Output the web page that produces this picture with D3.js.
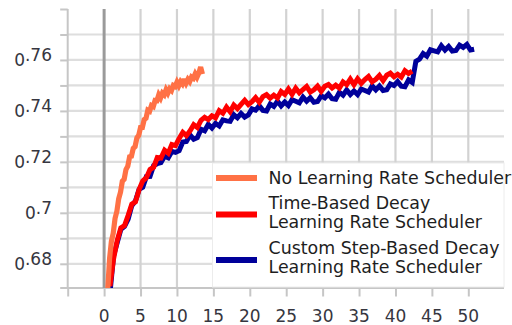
<!DOCTYPE html>
<html>
<head>
<meta charset="utf-8">
<script src="https://cdn.jsdelivr.net/npm/d3@7"></script>
<style>
  html, body { margin: 0; padding: 0; background: #fff; }
  svg { display: block; font-family: "DejaVu Sans", sans-serif; }
</style>
</head>
<body>
<svg id="chart" width="512" height="325"></svg>
<script>
// Validation accuracy per epoch for three learning-rate schedules
const noSchedStart = 0.5, noSchedStep = 0.25;
const noSchedulerAcc = [
  0.6700, 0.6821, 0.6889, 0.6920, 0.6978, 0.7006, 0.7055, 0.7081, 0.7124, 0.7132,
  0.7170, 0.7183, 0.7220, 0.7222, 0.7253, 0.7260, 0.7294, 0.7304, 0.7335, 0.7335,
  0.7366, 0.7371, 0.7403, 0.7399, 0.7421, 0.7417, 0.7441, 0.7440, 0.7463, 0.7451,
  0.7470, 0.7463, 0.7483, 0.7470, 0.7487, 0.7480, 0.7500, 0.7496, 0.7513, 0.7499,
  0.7515, 0.7506, 0.7524, 0.7509, 0.7524, 0.7515, 0.7533, 0.7528, 0.7545, 0.7532,
  0.7548, 0.7572, 0.7544
];

const timeDecayStart = 0.8, timeDecayStep = 0.5;
const timeDecayAcc = [
  0.6712, 0.6820, 0.6892, 0.6941, 0.6950, 0.6990, 0.7034, 0.7043, 0.7091, 0.7125,
  0.7138, 0.7170, 0.7179, 0.7217, 0.7215, 0.7246, 0.7234, 0.7268, 0.7264, 0.7292,
  0.7316, 0.7303, 0.7322, 0.7346, 0.7335, 0.7363, 0.7375, 0.7366, 0.7381, 0.7373,
  0.7401, 0.7391, 0.7415, 0.7397, 0.7423, 0.7409, 0.7426, 0.7442, 0.7425, 0.7436,
  0.7452, 0.7434, 0.7456, 0.7464, 0.7450, 0.7462, 0.7451, 0.7476, 0.7465, 0.7486,
  0.7465, 0.7489, 0.7471, 0.7484, 0.7496, 0.7474, 0.7483, 0.7497, 0.7477, 0.7497,
  0.7504, 0.7490, 0.7501, 0.7490, 0.7514, 0.7503, 0.7525, 0.7503, 0.7526, 0.7508,
  0.7523, 0.7535, 0.7514, 0.7524, 0.7539, 0.7519, 0.7540, 0.7548, 0.7534, 0.7544,
  0.7533, 0.7558, 0.7547, 0.7556
];

const stepDecayStart = 0.8, stepDecayStep = 0.5;
const stepDecayAcc = [
  0.6684, 0.6832, 0.6883, 0.6935, 0.6947, 0.6975, 0.7028, 0.7046, 0.7092, 0.7100,
  0.7142, 0.7143, 0.7186, 0.7193, 0.7197, 0.7222, 0.7216, 0.7241, 0.7237, 0.7244,
  0.7278, 0.7280, 0.7305, 0.7289, 0.7295, 0.7328, 0.7322, 0.7347, 0.7333, 0.7351,
  0.7341, 0.7365, 0.7361, 0.7359, 0.7385, 0.7373, 0.7390, 0.7376, 0.7384, 0.7408,
  0.7403, 0.7420, 0.7402, 0.7400, 0.7427, 0.7418, 0.7438, 0.7420, 0.7435, 0.7421,
  0.7444, 0.7438, 0.7432, 0.7454, 0.7438, 0.7452, 0.7434, 0.7437, 0.7459, 0.7451,
  0.7466, 0.7448, 0.7446, 0.7473, 0.7462, 0.7482, 0.7464, 0.7478, 0.7464, 0.7486,
  0.7480, 0.7474, 0.7498, 0.7483, 0.7498, 0.7480, 0.7483, 0.7506, 0.7500, 0.7515,
  0.7497, 0.7495, 0.7522, 0.7512, 0.7595, 0.7603, 0.7625, 0.7615, 0.7640, 0.7636,
  0.7632, 0.7656, 0.7639, 0.7653, 0.7635, 0.7637, 0.7658, 0.7649, 0.7661, 0.7639,
  0.7642
];

const xTicks = [-5, 0, 5, 10, 15, 20, 25, 30, 35, 40, 45, 50];
const yTicks = [0.68, 0.69, 0.70, 0.71, 0.72, 0.73, 0.74, 0.75, 0.76, 0.77, 0.78];
const yLabelled = ["0.68", "0.70", "0.72", "0.74", "0.76"];

const seriesNames = [
  ["No Learning Rate Scheduler"],
  ["Time-Based Decay", "Learning Rate Scheduler"],
  ["Custom Step-Based Decay", "Learning Rate Scheduler"]
];
const seriesColors = ["#ff7145", "#ff0000", "#00009a"];

function toPoints(start, step, values) {
  return values.map((v, i) => ({ epoch: start + i * step, acc: v }));
}
const series = [
  toPoints(noSchedStart, noSchedStep, noSchedulerAcc),
  toPoints(timeDecayStart, timeDecayStep, timeDecayAcc),
  toPoints(stepDecayStart, stepDecayStep, stepDecayAcc)
];

const svg = d3.select("#chart");
const plotLeft = 67.7, plotRight = 504, plotTop = 9, plotBottom = 288;

const x = d3.scaleLinear().domain([-5, 54.9]).range([plotLeft, plotRight]);
const y = d3.scaleLinear().domain([0.6705, 0.78]).range([plotBottom, plotTop]);

// grid
const grid = svg.append("g");
grid.selectAll("line.h").data(yTicks.slice(0, -1)).join("line")
  .attr("x1", plotLeft).attr("x2", plotRight)
  .attr("y1", d => y(d)).attr("y2", d => y(d))
  .attr("stroke", "#dedede").attr("stroke-width", 2.2);
grid.selectAll("line.v").data(xTicks.filter(d => d > 0)).join("line")
  .attr("x1", d => x(d)).attr("x2", d => x(d))
  .attr("y1", plotTop).attr("y2", plotBottom)
  .attr("stroke", "#d2d2d2").attr("stroke-width", 2.2);

// axes
const yAxis = svg.append("g").attr("transform", `translate(${plotLeft},0)`)
  .call(d3.axisLeft(y).tickValues(yTicks).tickSize(7.5).tickFormat(""));
const xAxis = svg.append("g").attr("transform", `translate(0,${plotBottom})`)
  .call(d3.axisBottom(x).tickValues(xTicks).tickSize(8.5).tickFormat(""));
[yAxis, xAxis].forEach(a => {
  a.select(".domain").remove();
  a.selectAll(".tick line").attr("stroke", "#c6c6c6").attr("stroke-width", 2);
});
svg.append("line").attr("x1", plotLeft).attr("x2", plotLeft).attr("y1", plotTop).attr("y2", plotBottom)
  .attr("stroke", "#c6c6c6").attr("stroke-width", 2);
svg.append("line").attr("x1", plotLeft - 7.5).attr("x2", plotRight).attr("y1", plotBottom).attr("y2", plotBottom)
  .attr("stroke", "#c6c6c6").attr("stroke-width", 2);

// zero line
svg.append("line").attr("x1", x(0)).attr("x2", x(0)).attr("y1", plotTop).attr("y2", plotBottom)
  .attr("stroke", "#9a9a9a").attr("stroke-width", 3);

// tick labels
svg.append("g").selectAll("text").data(xTicks.filter(d => d >= 0)).join("text")
  .attr("x", d => x(d)).attr("y", 321.5)
  .attr("text-anchor", "middle").attr("font-size", 17).attr("fill", "#363640")
  .text(d => d);

const yl = svg.append("g").selectAll("text").data(yLabelled).join("text")
  .attr("x", 52).attr("y", d => y(+d) + 5.8)
  .attr("text-anchor", "end").attr("font-size", 17).attr("fill", "#363640");
yl.append("tspan").text(d => d.split(".")[0]);
yl.append("tspan").attr("dy", -4.5).text(d => "." + d.split(".")[1].replace(/0$/, ""));

// data lines
svg.append("clipPath").attr("id", "plotClip").append("rect")
  .attr("x", plotLeft).attr("y", plotTop).attr("width", plotRight - plotLeft).attr("height", plotBottom - plotTop);
const line = d3.line().x(d => x(d.epoch)).y(d => y(d.acc));
const lines = svg.append("g").attr("clip-path", "url(#plotClip)");
[2, 1, 0].forEach(i => {
  lines.append("path").datum(series[i])
    .attr("d", line).attr("fill", "none")
    .attr("stroke", seriesColors[i]).attr("stroke-width", i === 0 ? 5.2 : 5)
    .attr("stroke-linejoin", "miter").attr("stroke-miterlimit", 2.5);
});

// legend
const lg = svg.append("g");
lg.append("rect").attr("x", 212.5).attr("y", 163).attr("width", plotRight - 212.5).attr("height", plotBottom - 164)
  .attr("fill", "#fff").attr("stroke", "#ececec").attr("stroke-width", 1);
const swatchY = [178, 214.5, 260];
const textY = [[184], [208.5, 227.5], [254, 273]];
seriesNames.forEach((names, i) => {
  lg.append("line").attr("x1", 216).attr("x2", 257).attr("y1", swatchY[i]).attr("y2", swatchY[i])
    .attr("stroke", seriesColors[i]).attr("stroke-width", 6);
  names.forEach((n, j) => {
    lg.append("text").attr("x", 268.5).attr("y", textY[i][j])
      .attr("font-size", 17.4).attr("fill", "#1e1e1e").text(n);
  });
});
</script>
</body>
</html>
